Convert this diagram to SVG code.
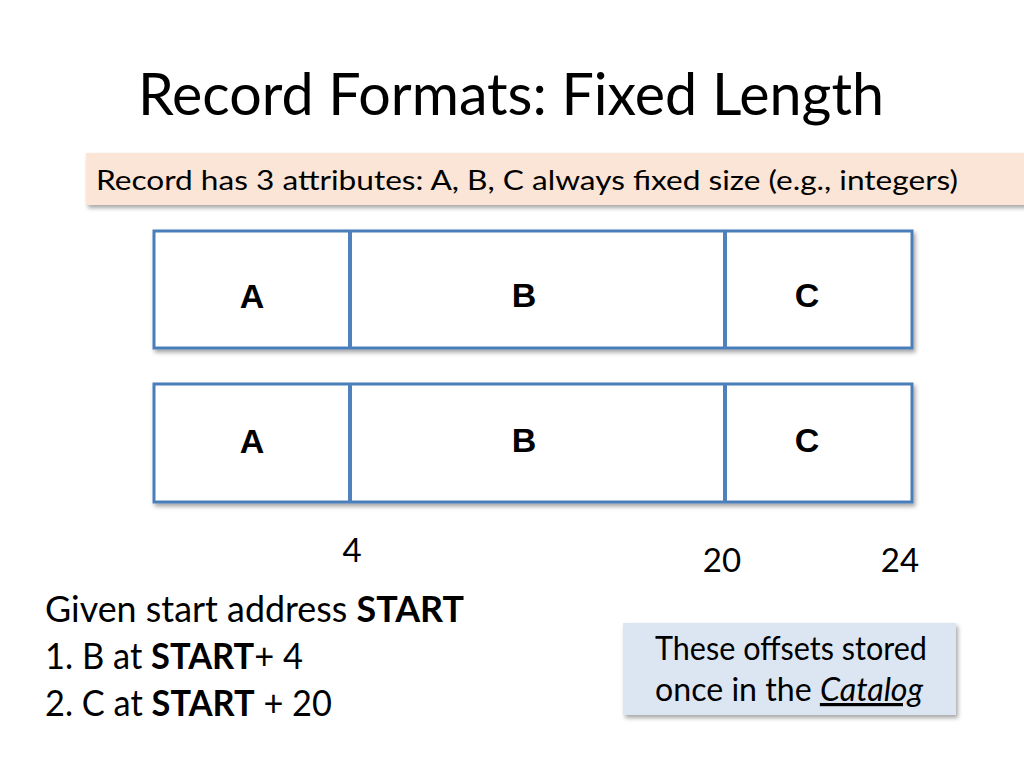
<svg xmlns="http://www.w3.org/2000/svg" width="1024" height="768" viewBox="0 0 1024 768">
  <defs>
    <filter id="shadow" x="-5%" y="-10%" width="110%" height="130%">
      <feDropShadow dx="2" dy="3" stdDeviation="2" flood-color="#000" flood-opacity="0.35"/>
    </filter>
    <style>
      .sans { font-family: Lato, "Open Sans", "Liberation Sans", sans-serif; fill: #000; }
      .lbl { font-family: "Liberation Sans", Arial, sans-serif; font-weight: bold; font-size: 34px; fill: #000; text-anchor: middle; }
      .row { fill: #fff; stroke: #4a7ebb; stroke-width: 3; }
      .div { stroke: #4f81bd; stroke-width: 4; }
      .b { font-weight: bold; }
    </style>
  </defs>
  <rect width="1024" height="768" fill="#fff"/>

  <g id="title">
    <text class="sans" x="138" y="115" font-size="59" textLength="746" lengthAdjust="spacingAndGlyphs">Record Formats: Fixed Length</text>
  </g>

  <g id="banner">
    <rect x="86" y="153" width="940" height="52" fill="#fbe5d6" filter="url(#shadow)"/>
    <text class="sans" x="96" y="190" font-size="27" textLength="862" lengthAdjust="spacingAndGlyphs">Record has 3 attributes: A, B, C always fixed size (e.g., integers)</text>
  </g>

  <g id="record1">
    <rect class="row" x="154" y="231" width="758" height="117" filter="url(#shadow)"/>
    <line class="div" x1="350" y1="231" x2="350" y2="348"/>
    <line class="div" x1="725" y1="231" x2="725" y2="348"/>
    <g id="r1-A"><text class="lbl" x="252" y="308">A</text></g>
    <g id="r1-B"><text class="lbl" x="524" y="307">B</text></g>
    <g id="r1-C"><text class="lbl" x="807" y="307">C</text></g>
  </g>

  <g id="record2">
    <rect class="row" x="154" y="384" width="758" height="118" filter="url(#shadow)"/>
    <line class="div" x1="350" y1="384" x2="350" y2="502"/>
    <line class="div" x1="725" y1="384" x2="725" y2="502"/>
    <g id="r2-A"><text class="lbl" x="252" y="453">A</text></g>
    <g id="r2-B"><text class="lbl" x="524" y="452">B</text></g>
    <g id="r2-C"><text class="lbl" x="807" y="452">C</text></g>
  </g>

  <g id="offsets">
    <text class="sans" x="352" y="562" font-size="33" text-anchor="middle">4</text>
    <text class="sans" x="722" y="572" font-size="33" text-anchor="middle">20</text>
    <text class="sans" x="900" y="572" font-size="33" text-anchor="middle">24</text>
  </g>

  <g id="explanation">
    <text class="sans" x="45" y="622" font-size="37" textLength="419" lengthAdjust="spacingAndGlyphs">Given start address <tspan class="b">START</tspan></text>
    <text class="sans" x="45" y="669" font-size="37" textLength="258" lengthAdjust="spacingAndGlyphs">1. B at <tspan class="b">START</tspan>+ 4</text>
    <text class="sans" x="45" y="716" font-size="37" textLength="287" lengthAdjust="spacingAndGlyphs">2. C at <tspan class="b">START</tspan> + 20</text>
  </g>

  <g id="catalog-note">
    <rect x="623" y="623" width="333" height="92" fill="#dce6f2" filter="url(#shadow)"/>
    <text class="sans" x="791" y="660" font-size="32" text-anchor="middle" textLength="272" lengthAdjust="spacingAndGlyphs">These offsets stored</text>
    <text class="sans" x="789" y="701" font-size="32" text-anchor="middle" textLength="268" lengthAdjust="spacingAndGlyphs">once in the <tspan font-style="italic" text-decoration="underline">Catalog</tspan></text>
  </g>
</svg>
